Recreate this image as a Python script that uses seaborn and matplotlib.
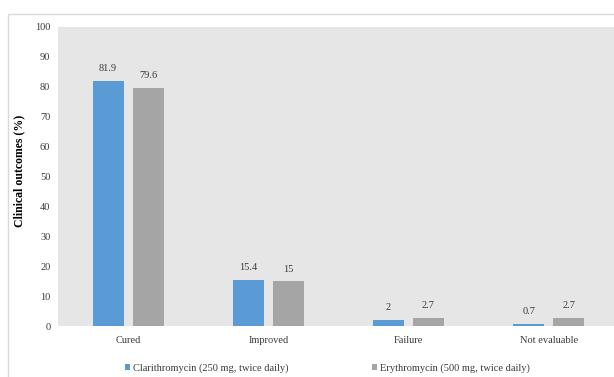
import matplotlib
matplotlib.use("Agg")
import matplotlib.pyplot as plt
from matplotlib.patches import Patch, Rectangle
import pandas as pd
import seaborn as sns

# Clinical outcome categories and percentages per regimen
outcomes = ["Cured", "Improved", "Failure", "Not evaluable"]
clarithromycin = [81.9, 15.4, 2, 0.7]
erythromycin = [79.6, 15, 2.7, 2.7]
regimens = ["Clarithromycin (250 mg, twice daily)", "Erythromycin (500 mg, twice daily)"]
y_ticks = [0, 10, 20, 30, 40, 50, 60, 70, 80, 90, 100]

df = pd.DataFrame({
    "Outcome": outcomes * 2,
    "Value": clarithromycin + erythromycin,
    "Regimen": [regimens[0]] * len(outcomes) + [regimens[1]] * len(outcomes),
})

colors = ["#5B9BD5", "#A5A5A5"]
text_color = "#3A3A3A"

sns.set_theme(style="white")
plt.rcParams["font.family"] = ["Liberation Serif", "DejaVu Serif"]

W, H = 614, 377
fig = plt.figure(figsize=(W / 100, H / 100), dpi=100)
fig.patch.set_facecolor("white")

# light chart border
fig.add_artist(Rectangle((8 / W, -0.1), 1.2, (1 - 14 / H) + 0.1,
                         transform=fig.transFigure, fill=False,
                         edgecolor="#D9D9D9", lw=1))

ax = fig.add_axes([58 / W, 1 - 326 / H, (W - 58) / W, 299 / H])
sns.barplot(data=df, x="Outcome", y="Value", hue="Regimen",
            order=outcomes, hue_order=regimens, palette=colors,
            width=0.57, gap=0.225, saturation=1, errorbar=None,
            linewidth=0, legend=False, ax=ax)

for container in ax.containers:
    ax.bar_label(container, fmt="%g", padding=5.5, fontsize=7.5, color=text_color)

ax.set_facecolor("#E7E6E6")
ax.set_xlim(-0.5, 3.466)
ax.set_ylim(0, 100)
ax.set_yticks(y_ticks)
ax.set_xlabel("")
ax.set_ylabel("Clinical outcomes (%)", fontsize=8.5, fontweight="bold", color="black")
ax.yaxis.set_label_coords(-0.059, 0.518)
for s in ax.spines.values():
    s.set_visible(False)
ax.tick_params(axis="both", length=0, labelsize=7.5, colors=text_color)
ax.tick_params(axis="x", pad=7)
ax.tick_params(axis="y", pad=5.5)

handles = [Patch(facecolor=c, edgecolor="none", label=l) for c, l in zip(colors, regimens)]
fig.legend(handles=handles, loc="center", bbox_to_anchor=(0.533, 1 - 368 / H),
           ncol=2, frameon=False, fontsize=7.5, handlelength=0.5, handleheight=0.5,
           handletextpad=0.3, columnspacing=8.0, labelcolor=text_color)

fig.savefig("out.png", dpi=100)
